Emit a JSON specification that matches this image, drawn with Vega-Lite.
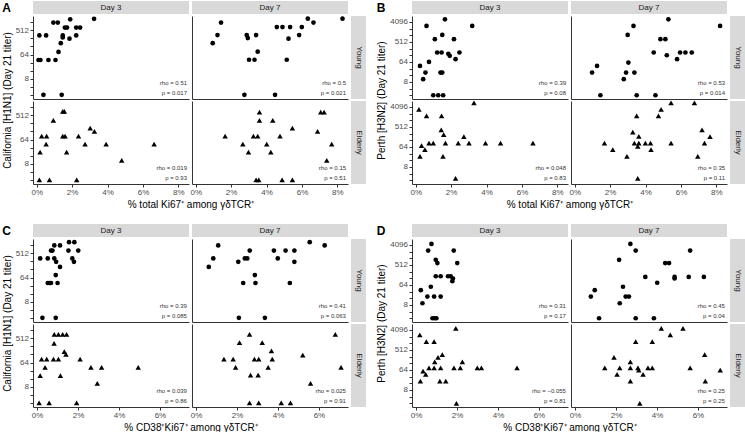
{
"$schema":"https://vega.github.io/schema/vega-lite/v6.json",
"padding":{"left":2,"top":1,"right":0,"bottom":0},
"background":"white",
"config":{"font":"Liberation Sans","view":{"stroke":null},
"axis":{"grid":false,"domainColor":"#333","tickColor":"#333","tickSize":3,"labelFontSize":8,"labelColor":"#4d4d4d","labelPadding":1.5,"titleFontSize":10,"titleFontWeight":"normal","titleColor":"#000","labelFlush":false,"labelOverlap":false,"labelBound":false,"labelSeparation":0},
"axisX":{"titlePadding":3},"axisY":{"titlePadding":3},
"text":{"fontSize":6,"color":"#333","align":"right","baseline":"middle"}},
"datasets":{
"st":[{"k":"A3Y","r":"rho = 0.51","q":"p = 0.017"},{"k":"A7Y","r":"rho = 0.5","q":"p = 0.021"},{"k":"A3E","r":"rho = 0.019","q":"p = 0.93"},{"k":"A7E","r":"rho = 0.15","q":"p = 0.51"},{"k":"B3Y","r":"rho = 0.39","q":"p = 0.08"},{"k":"B7Y","r":"rho = 0.53","q":"p = 0.014"},{"k":"B3E","r":"rho = 0.048","q":"p = 0.83"},{"k":"B7E","r":"rho = 0.35","q":"p = 0.11"},{"k":"C3Y","r":"rho = 0.39","q":"p = 0.085"},{"k":"C7Y","r":"rho = 0.41","q":"p = 0.063"},{"k":"C3E","r":"rho = 0.039","q":"p = 0.86"},{"k":"C7E","r":"rho = 0.025","q":"p = 0.91"},{"k":"D3Y","r":"rho = 0.31","q":"p = 0.17"},{"k":"D7Y","r":"rho = 0.45","q":"p = 0.04"},{"k":"D3E","r":"rho = −0.055","q":"p = 0.81"},{"k":"D7E","r":"rho = 0.25","q":"p = 0.25"}],
"A3Y":[{"x":0.10,"y":40},{"x":0.21,"y":40},{"x":0.66,"y":40},{"x":1.06,"y":40},{"x":0.15,"y":330},{"x":0.53,"y":330},{"x":1.47,"y":330},{"x":1.47,"y":280},{"x":1.85,"y":250},{"x":2.23,"y":330},{"x":1.36,"y":170},{"x":1.23,"y":80},{"x":0.94,"y":1000},{"x":1.19,"y":1000},{"x":1.89,"y":1320},{"x":3.24,"y":1380},{"x":1.59,"y":650},{"x":1.71,"y":650},{"x":2.23,"y":650},{"x":2.45,"y":650},{"x":0.38,"y":2},{"x":1.41,"y":2}],
"A3E":[{"x":1.47,"y":720},{"x":1.56,"y":720},{"x":0.94,"y":330},{"x":0.28,"y":86},{"x":0.56,"y":86},{"x":1.47,"y":86},{"x":1.60,"y":86},{"x":2.36,"y":86},{"x":3.02,"y":170},{"x":3.26,"y":129},{"x":0.53,"y":43},{"x":2.73,"y":43},{"x":3.92,"y":43},{"x":6.63,"y":43},{"x":0.19,"y":21.7},{"x":1.69,"y":21.7},{"x":4.80,"y":10.6},{"x":0.15,"y":2},{"x":0.72,"y":2},{"x":2.26,"y":2}],
"A7Y":[{"x":1.43,"y":1000},{"x":1.23,"y":340},{"x":0.96,"y":170},{"x":2.88,"y":340},{"x":2.94,"y":263},{"x":3.41,"y":340},{"x":3.50,"y":82},{"x":3.01,"y":41},{"x":3.32,"y":41},{"x":2.75,"y":2},{"x":4.48,"y":2},{"x":4.58,"y":680},{"x":4.90,"y":680},{"x":5.33,"y":680},{"x":5.24,"y":250},{"x":5.14,"y":41},{"x":5.84,"y":340},{"x":5.99,"y":680},{"x":6.33,"y":1400},{"x":6.65,"y":1000},{"x":8.29,"y":1400}],
"A7E":[{"x":3.60,"y":680},{"x":3.60,"y":333},{"x":4.35,"y":333},{"x":1.66,"y":86},{"x":3.26,"y":86},{"x":3.50,"y":86},{"x":4.76,"y":86},{"x":5.46,"y":171},{"x":2.66,"y":43},{"x":4.01,"y":43},{"x":2.98,"y":21.7},{"x":4.24,"y":21.7},{"x":6.88,"y":129},{"x":7.06,"y":680},{"x":7.25,"y":680},{"x":7.68,"y":43},{"x":7.40,"y":10.6},{"x":3.41,"y":2},{"x":3.56,"y":2},{"x":4.88,"y":2},{"x":5.46,"y":2}],
"B3Y":[{"x":0.61,"y":2700},{"x":1.65,"y":5400},{"x":3.19,"y":2700},{"x":1.50,"y":1060},{"x":1.08,"y":680},{"x":2.16,"y":680},{"x":1.21,"y":170},{"x":1.46,"y":170},{"x":1.84,"y":150},{"x":1.92,"y":120},{"x":2.47,"y":170},{"x":2.25,"y":85},{"x":0.75,"y":64},{"x":0.24,"y":42},{"x":0.55,"y":21},{"x":1.40,"y":21},{"x":1.50,"y":21},{"x":0.42,"y":10.6},{"x":0.99,"y":2},{"x":1.27,"y":2},{"x":1.55,"y":2}],
"B3E":[{"x":3.29,"y":6200},{"x":0.18,"y":3210},{"x":0.61,"y":1600},{"x":1.46,"y":1600},{"x":1.44,"y":377},{"x":1.58,"y":228},{"x":2.72,"y":189},{"x":0.75,"y":96},{"x":0.99,"y":96},{"x":1.68,"y":96},{"x":2.40,"y":96},{"x":3.01,"y":96},{"x":3.94,"y":96},{"x":4.79,"y":96},{"x":6.62,"y":96},{"x":0.33,"y":73.5},{"x":0.52,"y":48},{"x":0.24,"y":24},{"x":1.54,"y":24},{"x":2.25,"y":2.4}],
"B7Y":[{"x":5.29,"y":5400},{"x":3.32,"y":2700},{"x":8.21,"y":2700},{"x":2.99,"y":1060},{"x":4.84,"y":680},{"x":5.12,"y":680},{"x":4.46,"y":170},{"x":5.20,"y":128},{"x":5.95,"y":170},{"x":6.25,"y":170},{"x":6.61,"y":170},{"x":5.78,"y":85},{"x":3.03,"y":60},{"x":1.26,"y":42},{"x":0.98,"y":21},{"x":2.90,"y":21},{"x":3.37,"y":21},{"x":2.77,"y":10.6},{"x":1.45,"y":2},{"x":3.50,"y":2},{"x":4.56,"y":2}],
"B7E":[{"x":5.44,"y":6200},{"x":6.76,"y":6200},{"x":4.88,"y":3210},{"x":3.50,"y":1600},{"x":4.73,"y":1600},{"x":3.28,"y":296},{"x":3.62,"y":194},{"x":7.19,"y":377},{"x":7.64,"y":189},{"x":1.68,"y":96},{"x":3.37,"y":96},{"x":3.62,"y":96},{"x":3.99,"y":96},{"x":4.28,"y":96},{"x":5.44,"y":96},{"x":7.33,"y":96},{"x":3.56,"y":68},{"x":2.15,"y":48},{"x":4.31,"y":48},{"x":2.95,"y":24},{"x":6.95,"y":24},{"x":3.56,"y":2.4}],
"C3Y":[{"x":0.15,"y":330},{"x":0.52,"y":330},{"x":0.68,"y":650},{"x":0.75,"y":650},{"x":0.84,"y":1010},{"x":1.12,"y":1010},{"x":0.84,"y":330},{"x":0.93,"y":247},{"x":1.12,"y":159},{"x":0.91,"y":79},{"x":0.52,"y":40},{"x":0.60,"y":40},{"x":0.68,"y":40},{"x":1.00,"y":40},{"x":1.56,"y":1340},{"x":1.82,"y":1340},{"x":1.53,"y":650},{"x":2.01,"y":650},{"x":1.72,"y":330},{"x":1.80,"y":247},{"x":0.26,"y":2},{"x":0.91,"y":2}],
"C3E":[{"x":0.84,"y":724},{"x":1.04,"y":724},{"x":1.25,"y":724},{"x":1.44,"y":724},{"x":0.83,"y":333},{"x":1.33,"y":162},{"x":1.41,"y":130},{"x":2.10,"y":86},{"x":0.22,"y":86},{"x":0.47,"y":86},{"x":0.80,"y":86},{"x":1.04,"y":86},{"x":0.39,"y":42.5},{"x":2.63,"y":42.5},{"x":3.15,"y":42.5},{"x":4.94,"y":42.5},{"x":0.15,"y":20.7},{"x":1.14,"y":20.7},{"x":2.94,"y":10.7},{"x":0.10,"y":2},{"x":0.59,"y":2},{"x":1.93,"y":2}],
"C7Y":[{"x":1.08,"y":1010},{"x":0.84,"y":330},{"x":0.62,"y":159},{"x":2.06,"y":247},{"x":2.38,"y":330},{"x":2.50,"y":330},{"x":2.62,"y":650},{"x":2.87,"y":79},{"x":2.30,"y":40},{"x":2.90,"y":40},{"x":3.80,"y":650},{"x":3.99,"y":330},{"x":4.37,"y":650},{"x":4.80,"y":650},{"x":4.80,"y":247},{"x":4.58,"y":40},{"x":5.55,"y":1340},{"x":6.28,"y":1010},{"x":2.09,"y":2},{"x":3.36,"y":2}],
"C7E":[{"x":2.61,"y":724},{"x":6.80,"y":724},{"x":2.12,"y":352},{"x":3.23,"y":352},{"x":3.68,"y":173},{"x":1.36,"y":86},{"x":1.81,"y":86},{"x":2.85,"y":86},{"x":3.06,"y":86},{"x":3.72,"y":86},{"x":5.21,"y":122},{"x":1.93,"y":42.5},{"x":3.52,"y":42.5},{"x":7.08,"y":42.5},{"x":2.66,"y":21.9},{"x":3.03,"y":21.9},{"x":5.59,"y":10.7},{"x":2.61,"y":2},{"x":3.06,"y":2},{"x":4.16,"y":2},{"x":4.61,"y":2}],
"D3Y":[{"x":0.75,"y":4540},{"x":0.59,"y":2270},{"x":1.84,"y":2270},{"x":0.96,"y":873},{"x":1.04,"y":622},{"x":2.01,"y":622},{"x":0.96,"y":158},{"x":1.20,"y":158},{"x":1.56,"y":158},{"x":1.69,"y":158},{"x":1.80,"y":125},{"x":1.77,"y":94},{"x":0.72,"y":53},{"x":0.23,"y":37},{"x":0.55,"y":19},{"x":0.88,"y":19},{"x":1.20,"y":19},{"x":0.31,"y":9.5},{"x":0.80,"y":2},{"x":0.91,"y":2},{"x":0.99,"y":2}],
"D3E":[{"x":1.94,"y":4840},{"x":0.18,"y":2450},{"x":0.50,"y":1230},{"x":0.88,"y":1230},{"x":1.28,"y":313},{"x":1.07,"y":237},{"x":0.91,"y":146},{"x":2.26,"y":146},{"x":0.63,"y":79},{"x":0.88,"y":79},{"x":1.20,"y":79},{"x":1.85,"y":79},{"x":2.16,"y":79},{"x":2.99,"y":79},{"x":3.19,"y":79},{"x":4.93,"y":79},{"x":0.34,"y":56},{"x":0.47,"y":40},{"x":0.21,"y":20},{"x":1.16,"y":20},{"x":1.45,"y":20},{"x":1.97,"y":1.95}],
"D7Y":[{"x":2.70,"y":4540},{"x":2.96,"y":2270},{"x":5.62,"y":2270},{"x":2.15,"y":873},{"x":4.40,"y":622},{"x":4.59,"y":622},{"x":3.43,"y":147},{"x":4.01,"y":80},{"x":4.86,"y":147},{"x":4.86,"y":125},{"x":5.55,"y":147},{"x":6.29,"y":147},{"x":0.96,"y":37},{"x":0.77,"y":19},{"x":2.34,"y":53},{"x":2.47,"y":19},{"x":2.63,"y":19},{"x":2.18,"y":9.5},{"x":1.17,"y":2},{"x":2.96,"y":2},{"x":3.85,"y":2}],
"D7E":[{"x":4.21,"y":4840},{"x":5.27,"y":4840},{"x":4.65,"y":2450},{"x":2.96,"y":1230},{"x":3.77,"y":1230},{"x":1.90,"y":237},{"x":6.33,"y":313},{"x":2.70,"y":146},{"x":1.45,"y":79},{"x":2.18,"y":79},{"x":2.70,"y":79},{"x":3.07,"y":79},{"x":3.11,"y":62},{"x":3.56,"y":79},{"x":3.77,"y":79},{"x":5.62,"y":79},{"x":7.09,"y":62},{"x":2.05,"y":40},{"x":3.32,"y":40},{"x":2.70,"y":20},{"x":6.36,"y":20},{"x":3.16,"y":1.95}]
},
"spacing":14,
"vconcat":[
{"hconcat":[
{"columns":3,"spacing":{"row":2,"column":3},"bounds":"flush","align":"each",
"title":{"text":"A","anchor":"start","frame":"bounds","fontSize":12,"fontWeight":"bold","offset":-14,"color":"#000"},
"concat":[
{"width":156,"height":13,"view":{"fill":"#d9d9d9","stroke":null},"data":{"values":[{"t":"Day 3"}]},"mark":{"type":"text","fontSize":8,"color":"#1a1a1a","align":"center"},"encoding":{"text":{"field":"t"}}},
{"width":156,"height":13,"view":{"fill":"#d9d9d9","stroke":null},"data":{"values":[{"t":"Day 7"}]},"mark":{"type":"text","fontSize":8,"color":"#1a1a1a","align":"center"},"encoding":{"text":{"field":"t"}}},
{"width":15,"height":13,"data":{"values":[{"t":""}]},"mark":{"type":"text"},"encoding":{"text":{"field":"t"}}},
{"width":156,"height":83,"layer":[
{"data":{"name":"A3Y"},"mark":{"type":"point","shape":"circle","filled":true,"size":22,"color":"#000","opacity":1},"encoding":{"x":{"field":"x","type":"quantitative","scale":{"domain":[-0.21,8.6],"nice":false,"zero":false},"axis":{"title":null,"labels":false,"ticks":false}},"y":{"field":"y","type":"quantitative","scale":{"type":"log","domain":[1.4,1760],"nice":false},"axis":{"values":[2,4,8,16,32,64,128,256,512,1024],"format":"d","labelExpr":"datum.value==8||datum.value==64||datum.value==512||datum.value==4096?datum.label:''","title":"California [H1N1] (Day 21 titer)","titleY":84}}}},
{"data":{"name":"st"},"transform":[{"filter":"datum.k=='A3Y'"}],"mark":"text","encoding":{"x":{"datum":8.49,"axis":{"title":null,"labels":false,"ticks":false}},"y":{"datum":5.7,"axis":{"values":[2,4,8,16,32,64,128,256,512,1024],"format":"d","labelExpr":"datum.value==8||datum.value==64||datum.value==512||datum.value==4096?datum.label:''","title":"California [H1N1] (Day 21 titer)","titleY":84}},"text":{"field":"r"}}},
{"data":{"name":"st"},"transform":[{"filter":"datum.k=='A3Y'"}],"mark":"text","encoding":{"x":{"datum":8.49,"axis":{"title":null,"labels":false,"ticks":false}},"y":{"datum":2.3,"axis":{"values":[2,4,8,16,32,64,128,256,512,1024],"format":"d","labelExpr":"datum.value==8||datum.value==64||datum.value==512||datum.value==4096?datum.label:''","title":"California [H1N1] (Day 21 titer)","titleY":84}},"text":{"field":"q"}}}]},
{"width":156,"height":83,"layer":[
{"data":{"name":"A7Y"},"mark":{"type":"point","shape":"circle","filled":true,"size":22,"color":"#000","opacity":1},"encoding":{"x":{"field":"x","type":"quantitative","scale":{"domain":[-0.21,8.6],"nice":false,"zero":false},"axis":{"title":null,"labels":false,"ticks":false}},"y":{"field":"y","type":"quantitative","scale":{"type":"log","domain":[1.4,1760],"nice":false},"axis":{"title":null,"labels":false,"ticks":false}}}},
{"data":{"name":"st"},"transform":[{"filter":"datum.k=='A7Y'"}],"mark":"text","encoding":{"x":{"datum":8.49,"axis":{"title":null,"labels":false,"ticks":false}},"y":{"datum":5.7,"axis":{"title":null,"labels":false,"ticks":false}},"text":{"field":"r"}}},
{"data":{"name":"st"},"transform":[{"filter":"datum.k=='A7Y'"}],"mark":"text","encoding":{"x":{"datum":8.49,"axis":{"title":null,"labels":false,"ticks":false}},"y":{"datum":2.3,"axis":{"title":null,"labels":false,"ticks":false}},"text":{"field":"q"}}}]},
{"width":15,"height":83,"view":{"fill":"#d9d9d9","stroke":null},"data":{"values":[{"t":"Young"}]},"mark":{"type":"text","fontSize":8,"angle":90,"color":"#1a1a1a","align":"center"},"encoding":{"text":{"field":"t"}}},
{"width":156,"height":83,"layer":[
{"data":{"name":"A3E"},"mark":{"type":"point","shape":"triangle-up","filled":true,"size":30,"color":"#000","opacity":1},"encoding":{"x":{"field":"x","type":"quantitative","scale":{"domain":[-0.21,8.6],"nice":false,"zero":false},"axis":{"values":[0,2,4,6,8],"labelOverlap":false,"labelExpr":"datum.value+'%'","title":"% total Ki67⁺ among γδTCR⁺","titleX":157.5}},"y":{"field":"y","type":"quantitative","scale":{"type":"log","domain":[1.4,1760],"nice":false},"axis":{"values":[2,4,8,16,32,64,128,256,512,1024],"format":"d","labelExpr":"datum.value==8||datum.value==64||datum.value==512||datum.value==4096?datum.label:''","title":null}}}},
{"data":{"name":"st"},"transform":[{"filter":"datum.k=='A3E'"}],"mark":"text","encoding":{"x":{"datum":8.49,"axis":{"values":[0,2,4,6,8],"labelOverlap":false,"labelExpr":"datum.value+'%'","title":"% total Ki67⁺ among γδTCR⁺","titleX":157.5}},"y":{"datum":5.7,"axis":{"values":[2,4,8,16,32,64,128,256,512,1024],"format":"d","labelExpr":"datum.value==8||datum.value==64||datum.value==512||datum.value==4096?datum.label:''","title":null}},"text":{"field":"r"}}},
{"data":{"name":"st"},"transform":[{"filter":"datum.k=='A3E'"}],"mark":"text","encoding":{"x":{"datum":8.49,"axis":{"values":[0,2,4,6,8],"labelOverlap":false,"labelExpr":"datum.value+'%'","title":"% total Ki67⁺ among γδTCR⁺","titleX":157.5}},"y":{"datum":2.3,"axis":{"values":[2,4,8,16,32,64,128,256,512,1024],"format":"d","labelExpr":"datum.value==8||datum.value==64||datum.value==512||datum.value==4096?datum.label:''","title":null}},"text":{"field":"q"}}}]},
{"width":156,"height":83,"layer":[
{"data":{"name":"A7E"},"mark":{"type":"point","shape":"triangle-up","filled":true,"size":30,"color":"#000","opacity":1},"encoding":{"x":{"field":"x","type":"quantitative","scale":{"domain":[-0.21,8.6],"nice":false,"zero":false},"axis":{"values":[0,2,4,6,8],"labelOverlap":false,"labelExpr":"datum.value+'%'","title":null}},"y":{"field":"y","type":"quantitative","scale":{"type":"log","domain":[1.4,1760],"nice":false},"axis":{"title":null,"labels":false,"ticks":false}}}},
{"data":{"name":"st"},"transform":[{"filter":"datum.k=='A7E'"}],"mark":"text","encoding":{"x":{"datum":8.49,"axis":{"values":[0,2,4,6,8],"labelOverlap":false,"labelExpr":"datum.value+'%'","title":null}},"y":{"datum":5.7,"axis":{"title":null,"labels":false,"ticks":false}},"text":{"field":"r"}}},
{"data":{"name":"st"},"transform":[{"filter":"datum.k=='A7E'"}],"mark":"text","encoding":{"x":{"datum":8.49,"axis":{"values":[0,2,4,6,8],"labelOverlap":false,"labelExpr":"datum.value+'%'","title":null}},"y":{"datum":2.3,"axis":{"title":null,"labels":false,"ticks":false}},"text":{"field":"q"}}}]},
{"width":15,"height":83,"view":{"fill":"#d9d9d9","stroke":null},"data":{"values":[{"t":"Elderly"}]},"mark":{"type":"text","fontSize":8,"angle":90,"color":"#1a1a1a","align":"center"},"encoding":{"text":{"field":"t"}}}
]},
{"columns":3,"spacing":{"row":2,"column":3},"bounds":"flush","align":"each",
"title":{"text":"B","anchor":"start","frame":"bounds","fontSize":12,"fontWeight":"bold","offset":-14,"color":"#000"},
"concat":[
{"width":156,"height":13,"view":{"fill":"#d9d9d9","stroke":null},"data":{"values":[{"t":"Day 3"}]},"mark":{"type":"text","fontSize":8,"color":"#1a1a1a","align":"center"},"encoding":{"text":{"field":"t"}}},
{"width":156,"height":13,"view":{"fill":"#d9d9d9","stroke":null},"data":{"values":[{"t":"Day 7"}]},"mark":{"type":"text","fontSize":8,"color":"#1a1a1a","align":"center"},"encoding":{"text":{"field":"t"}}},
{"width":15,"height":13,"data":{"values":[{"t":""}]},"mark":{"type":"text"},"encoding":{"text":{"field":"t"}}},
{"width":156,"height":83,"layer":[
{"data":{"name":"B3Y"},"mark":{"type":"point","shape":"circle","filled":true,"size":22,"color":"#000","opacity":1},"encoding":{"x":{"field":"x","type":"quantitative","scale":{"domain":[-0.21,8.6],"nice":false,"zero":false},"axis":{"title":null,"labels":false,"ticks":false}},"y":{"field":"y","type":"quantitative","scale":{"type":"log","domain":[1.35,7600],"nice":false},"axis":{"values":[2,4,8,16,32,64,128,256,512,1024,2048,4096],"format":"d","labelExpr":"datum.value==8||datum.value==64||datum.value==512||datum.value==4096?datum.label:''","title":"Perth [H3N2] (Day 21 titer)","titleY":84}}}},
{"data":{"name":"st"},"transform":[{"filter":"datum.k=='B3Y'"}],"mark":"text","encoding":{"x":{"datum":8.49,"axis":{"title":null,"labels":false,"ticks":false}},"y":{"datum":7.4,"axis":{"values":[2,4,8,16,32,64,128,256,512,1024,2048,4096],"format":"d","labelExpr":"datum.value==8||datum.value==64||datum.value==512||datum.value==4096?datum.label:''","title":"Perth [H3N2] (Day 21 titer)","titleY":84}},"text":{"field":"r"}}},
{"data":{"name":"st"},"transform":[{"filter":"datum.k=='B3Y'"}],"mark":"text","encoding":{"x":{"datum":8.49,"axis":{"title":null,"labels":false,"ticks":false}},"y":{"datum":2.45,"axis":{"values":[2,4,8,16,32,64,128,256,512,1024,2048,4096],"format":"d","labelExpr":"datum.value==8||datum.value==64||datum.value==512||datum.value==4096?datum.label:''","title":"Perth [H3N2] (Day 21 titer)","titleY":84}},"text":{"field":"q"}}}]},
{"width":156,"height":83,"layer":[
{"data":{"name":"B7Y"},"mark":{"type":"point","shape":"circle","filled":true,"size":22,"color":"#000","opacity":1},"encoding":{"x":{"field":"x","type":"quantitative","scale":{"domain":[-0.21,8.6],"nice":false,"zero":false},"axis":{"title":null,"labels":false,"ticks":false}},"y":{"field":"y","type":"quantitative","scale":{"type":"log","domain":[1.35,7600],"nice":false},"axis":{"title":null,"labels":false,"ticks":false}}}},
{"data":{"name":"st"},"transform":[{"filter":"datum.k=='B7Y'"}],"mark":"text","encoding":{"x":{"datum":8.49,"axis":{"title":null,"labels":false,"ticks":false}},"y":{"datum":7.4,"axis":{"title":null,"labels":false,"ticks":false}},"text":{"field":"r"}}},
{"data":{"name":"st"},"transform":[{"filter":"datum.k=='B7Y'"}],"mark":"text","encoding":{"x":{"datum":8.49,"axis":{"title":null,"labels":false,"ticks":false}},"y":{"datum":2.45,"axis":{"title":null,"labels":false,"ticks":false}},"text":{"field":"q"}}}]},
{"width":15,"height":83,"view":{"fill":"#d9d9d9","stroke":null},"data":{"values":[{"t":"Young"}]},"mark":{"type":"text","fontSize":8,"angle":90,"color":"#1a1a1a","align":"center"},"encoding":{"text":{"field":"t"}}},
{"width":156,"height":83,"layer":[
{"data":{"name":"B3E"},"mark":{"type":"point","shape":"triangle-up","filled":true,"size":30,"color":"#000","opacity":1},"encoding":{"x":{"field":"x","type":"quantitative","scale":{"domain":[-0.21,8.6],"nice":false,"zero":false},"axis":{"values":[0,2,4,6,8],"labelOverlap":false,"labelExpr":"datum.value+'%'","title":"% total Ki67⁺ among γδTCR⁺","titleX":157.5}},"y":{"field":"y","type":"quantitative","scale":{"type":"log","domain":[1.35,7600],"nice":false},"axis":{"values":[2,4,8,16,32,64,128,256,512,1024,2048,4096],"format":"d","labelExpr":"datum.value==8||datum.value==64||datum.value==512||datum.value==4096?datum.label:''","title":null}}}},
{"data":{"name":"st"},"transform":[{"filter":"datum.k=='B3E'"}],"mark":"text","encoding":{"x":{"datum":8.49,"axis":{"values":[0,2,4,6,8],"labelOverlap":false,"labelExpr":"datum.value+'%'","title":"% total Ki67⁺ among γδTCR⁺","titleX":157.5}},"y":{"datum":7.4,"axis":{"values":[2,4,8,16,32,64,128,256,512,1024,2048,4096],"format":"d","labelExpr":"datum.value==8||datum.value==64||datum.value==512||datum.value==4096?datum.label:''","title":null}},"text":{"field":"r"}}},
{"data":{"name":"st"},"transform":[{"filter":"datum.k=='B3E'"}],"mark":"text","encoding":{"x":{"datum":8.49,"axis":{"values":[0,2,4,6,8],"labelOverlap":false,"labelExpr":"datum.value+'%'","title":"% total Ki67⁺ among γδTCR⁺","titleX":157.5}},"y":{"datum":2.45,"axis":{"values":[2,4,8,16,32,64,128,256,512,1024,2048,4096],"format":"d","labelExpr":"datum.value==8||datum.value==64||datum.value==512||datum.value==4096?datum.label:''","title":null}},"text":{"field":"q"}}}]},
{"width":156,"height":83,"layer":[
{"data":{"name":"B7E"},"mark":{"type":"point","shape":"triangle-up","filled":true,"size":30,"color":"#000","opacity":1},"encoding":{"x":{"field":"x","type":"quantitative","scale":{"domain":[-0.21,8.6],"nice":false,"zero":false},"axis":{"values":[0,2,4,6,8],"labelOverlap":false,"labelExpr":"datum.value+'%'","title":null}},"y":{"field":"y","type":"quantitative","scale":{"type":"log","domain":[1.35,7600],"nice":false},"axis":{"title":null,"labels":false,"ticks":false}}}},
{"data":{"name":"st"},"transform":[{"filter":"datum.k=='B7E'"}],"mark":"text","encoding":{"x":{"datum":8.49,"axis":{"values":[0,2,4,6,8],"labelOverlap":false,"labelExpr":"datum.value+'%'","title":null}},"y":{"datum":7.4,"axis":{"title":null,"labels":false,"ticks":false}},"text":{"field":"r"}}},
{"data":{"name":"st"},"transform":[{"filter":"datum.k=='B7E'"}],"mark":"text","encoding":{"x":{"datum":8.49,"axis":{"values":[0,2,4,6,8],"labelOverlap":false,"labelExpr":"datum.value+'%'","title":null}},"y":{"datum":2.45,"axis":{"title":null,"labels":false,"ticks":false}},"text":{"field":"q"}}}]},
{"width":15,"height":83,"view":{"fill":"#d9d9d9","stroke":null},"data":{"values":[{"t":"Elderly"}]},"mark":{"type":"text","fontSize":8,"angle":90,"color":"#1a1a1a","align":"center"},"encoding":{"text":{"field":"t"}}}
]}
],"spacing":10},
{"hconcat":[
{"columns":3,"spacing":{"row":2,"column":3},"bounds":"flush","align":"each",
"title":{"text":"C","anchor":"start","frame":"bounds","fontSize":12,"fontWeight":"bold","offset":-14,"color":"#000"},
"concat":[
{"width":156,"height":13,"view":{"fill":"#d9d9d9","stroke":null},"data":{"values":[{"t":"Day 3"}]},"mark":{"type":"text","fontSize":8,"color":"#1a1a1a","align":"center"},"encoding":{"text":{"field":"t"}}},
{"width":156,"height":13,"view":{"fill":"#d9d9d9","stroke":null},"data":{"values":[{"t":"Day 7"}]},"mark":{"type":"text","fontSize":8,"color":"#1a1a1a","align":"center"},"encoding":{"text":{"field":"t"}}},
{"width":15,"height":13,"data":{"values":[{"t":""}]},"mark":{"type":"text"},"encoding":{"text":{"field":"t"}}},
{"width":156,"height":83,"layer":[
{"data":{"name":"C3Y"},"mark":{"type":"point","shape":"circle","filled":true,"size":22,"color":"#000","opacity":1},"encoding":{"x":{"field":"x","type":"quantitative","scale":{"domain":[-0.2,7.42],"nice":false,"zero":false},"axis":{"title":null,"labels":false,"ticks":false}},"y":{"field":"y","type":"quantitative","scale":{"type":"log","domain":[1.4,1760],"nice":false},"axis":{"values":[2,4,8,16,32,64,128,256,512,1024],"format":"d","labelExpr":"datum.value==8||datum.value==64||datum.value==512||datum.value==4096?datum.label:''","title":"California [H1N1] (Day 21 titer)","titleY":84}}}},
{"data":{"name":"st"},"transform":[{"filter":"datum.k=='C3Y'"}],"mark":"text","encoding":{"x":{"datum":7.32,"axis":{"title":null,"labels":false,"ticks":false}},"y":{"datum":5.7,"axis":{"values":[2,4,8,16,32,64,128,256,512,1024],"format":"d","labelExpr":"datum.value==8||datum.value==64||datum.value==512||datum.value==4096?datum.label:''","title":"California [H1N1] (Day 21 titer)","titleY":84}},"text":{"field":"r"}}},
{"data":{"name":"st"},"transform":[{"filter":"datum.k=='C3Y'"}],"mark":"text","encoding":{"x":{"datum":7.32,"axis":{"title":null,"labels":false,"ticks":false}},"y":{"datum":2.3,"axis":{"values":[2,4,8,16,32,64,128,256,512,1024],"format":"d","labelExpr":"datum.value==8||datum.value==64||datum.value==512||datum.value==4096?datum.label:''","title":"California [H1N1] (Day 21 titer)","titleY":84}},"text":{"field":"q"}}}]},
{"width":156,"height":83,"layer":[
{"data":{"name":"C7Y"},"mark":{"type":"point","shape":"circle","filled":true,"size":22,"color":"#000","opacity":1},"encoding":{"x":{"field":"x","type":"quantitative","scale":{"domain":[-0.2,7.42],"nice":false,"zero":false},"axis":{"title":null,"labels":false,"ticks":false}},"y":{"field":"y","type":"quantitative","scale":{"type":"log","domain":[1.4,1760],"nice":false},"axis":{"title":null,"labels":false,"ticks":false}}}},
{"data":{"name":"st"},"transform":[{"filter":"datum.k=='C7Y'"}],"mark":"text","encoding":{"x":{"datum":7.32,"axis":{"title":null,"labels":false,"ticks":false}},"y":{"datum":5.7,"axis":{"title":null,"labels":false,"ticks":false}},"text":{"field":"r"}}},
{"data":{"name":"st"},"transform":[{"filter":"datum.k=='C7Y'"}],"mark":"text","encoding":{"x":{"datum":7.32,"axis":{"title":null,"labels":false,"ticks":false}},"y":{"datum":2.3,"axis":{"title":null,"labels":false,"ticks":false}},"text":{"field":"q"}}}]},
{"width":15,"height":83,"view":{"fill":"#d9d9d9","stroke":null},"data":{"values":[{"t":"Young"}]},"mark":{"type":"text","fontSize":8,"angle":90,"color":"#1a1a1a","align":"center"},"encoding":{"text":{"field":"t"}}},
{"width":156,"height":83,"layer":[
{"data":{"name":"C3E"},"mark":{"type":"point","shape":"triangle-up","filled":true,"size":30,"color":"#000","opacity":1},"encoding":{"x":{"field":"x","type":"quantitative","scale":{"domain":[-0.2,7.42],"nice":false,"zero":false},"axis":{"values":[0,2,4,6],"labelOverlap":false,"labelExpr":"datum.value+'%'","title":"% CD38⁺Ki67⁺ among γδTCR⁺","titleX":157.5}},"y":{"field":"y","type":"quantitative","scale":{"type":"log","domain":[1.4,1760],"nice":false},"axis":{"values":[2,4,8,16,32,64,128,256,512,1024],"format":"d","labelExpr":"datum.value==8||datum.value==64||datum.value==512||datum.value==4096?datum.label:''","title":null}}}},
{"data":{"name":"st"},"transform":[{"filter":"datum.k=='C3E'"}],"mark":"text","encoding":{"x":{"datum":7.32,"axis":{"values":[0,2,4,6],"labelOverlap":false,"labelExpr":"datum.value+'%'","title":"% CD38⁺Ki67⁺ among γδTCR⁺","titleX":157.5}},"y":{"datum":5.7,"axis":{"values":[2,4,8,16,32,64,128,256,512,1024],"format":"d","labelExpr":"datum.value==8||datum.value==64||datum.value==512||datum.value==4096?datum.label:''","title":null}},"text":{"field":"r"}}},
{"data":{"name":"st"},"transform":[{"filter":"datum.k=='C3E'"}],"mark":"text","encoding":{"x":{"datum":7.32,"axis":{"values":[0,2,4,6],"labelOverlap":false,"labelExpr":"datum.value+'%'","title":"% CD38⁺Ki67⁺ among γδTCR⁺","titleX":157.5}},"y":{"datum":2.3,"axis":{"values":[2,4,8,16,32,64,128,256,512,1024],"format":"d","labelExpr":"datum.value==8||datum.value==64||datum.value==512||datum.value==4096?datum.label:''","title":null}},"text":{"field":"q"}}}]},
{"width":156,"height":83,"layer":[
{"data":{"name":"C7E"},"mark":{"type":"point","shape":"triangle-up","filled":true,"size":30,"color":"#000","opacity":1},"encoding":{"x":{"field":"x","type":"quantitative","scale":{"domain":[-0.2,7.42],"nice":false,"zero":false},"axis":{"values":[0,2,4,6],"labelOverlap":false,"labelExpr":"datum.value+'%'","title":null}},"y":{"field":"y","type":"quantitative","scale":{"type":"log","domain":[1.4,1760],"nice":false},"axis":{"title":null,"labels":false,"ticks":false}}}},
{"data":{"name":"st"},"transform":[{"filter":"datum.k=='C7E'"}],"mark":"text","encoding":{"x":{"datum":7.32,"axis":{"values":[0,2,4,6],"labelOverlap":false,"labelExpr":"datum.value+'%'","title":null}},"y":{"datum":5.7,"axis":{"title":null,"labels":false,"ticks":false}},"text":{"field":"r"}}},
{"data":{"name":"st"},"transform":[{"filter":"datum.k=='C7E'"}],"mark":"text","encoding":{"x":{"datum":7.32,"axis":{"values":[0,2,4,6],"labelOverlap":false,"labelExpr":"datum.value+'%'","title":null}},"y":{"datum":2.3,"axis":{"title":null,"labels":false,"ticks":false}},"text":{"field":"q"}}}]},
{"width":15,"height":83,"view":{"fill":"#d9d9d9","stroke":null},"data":{"values":[{"t":"Elderly"}]},"mark":{"type":"text","fontSize":8,"angle":90,"color":"#1a1a1a","align":"center"},"encoding":{"text":{"field":"t"}}}
]},
{"columns":3,"spacing":{"row":2,"column":3},"bounds":"flush","align":"each",
"title":{"text":"D","anchor":"start","frame":"bounds","fontSize":12,"fontWeight":"bold","offset":-14,"color":"#000"},
"concat":[
{"width":156,"height":13,"view":{"fill":"#d9d9d9","stroke":null},"data":{"values":[{"t":"Day 3"}]},"mark":{"type":"text","fontSize":8,"color":"#1a1a1a","align":"center"},"encoding":{"text":{"field":"t"}}},
{"width":156,"height":13,"view":{"fill":"#d9d9d9","stroke":null},"data":{"values":[{"t":"Day 7"}]},"mark":{"type":"text","fontSize":8,"color":"#1a1a1a","align":"center"},"encoding":{"text":{"field":"t"}}},
{"width":15,"height":13,"data":{"values":[{"t":""}]},"mark":{"type":"text"},"encoding":{"text":{"field":"t"}}},
{"width":156,"height":83,"layer":[
{"data":{"name":"D3Y"},"mark":{"type":"point","shape":"circle","filled":true,"size":22,"color":"#000","opacity":1},"encoding":{"x":{"field":"x","type":"quantitative","scale":{"domain":[-0.2,7.42],"nice":false,"zero":false},"axis":{"title":null,"labels":false,"ticks":false}},"y":{"field":"y","type":"quantitative","scale":{"type":"log","domain":[1.35,7600],"nice":false},"axis":{"values":[2,4,8,16,32,64,128,256,512,1024,2048,4096],"format":"d","labelExpr":"datum.value==8||datum.value==64||datum.value==512||datum.value==4096?datum.label:''","title":"Perth [H3N2] (Day 21 titer)","titleY":84}}}},
{"data":{"name":"st"},"transform":[{"filter":"datum.k=='D3Y'"}],"mark":"text","encoding":{"x":{"datum":7.32,"axis":{"title":null,"labels":false,"ticks":false}},"y":{"datum":7.4,"axis":{"values":[2,4,8,16,32,64,128,256,512,1024,2048,4096],"format":"d","labelExpr":"datum.value==8||datum.value==64||datum.value==512||datum.value==4096?datum.label:''","title":"Perth [H3N2] (Day 21 titer)","titleY":84}},"text":{"field":"r"}}},
{"data":{"name":"st"},"transform":[{"filter":"datum.k=='D3Y'"}],"mark":"text","encoding":{"x":{"datum":7.32,"axis":{"title":null,"labels":false,"ticks":false}},"y":{"datum":2.45,"axis":{"values":[2,4,8,16,32,64,128,256,512,1024,2048,4096],"format":"d","labelExpr":"datum.value==8||datum.value==64||datum.value==512||datum.value==4096?datum.label:''","title":"Perth [H3N2] (Day 21 titer)","titleY":84}},"text":{"field":"q"}}}]},
{"width":156,"height":83,"layer":[
{"data":{"name":"D7Y"},"mark":{"type":"point","shape":"circle","filled":true,"size":22,"color":"#000","opacity":1},"encoding":{"x":{"field":"x","type":"quantitative","scale":{"domain":[-0.2,7.42],"nice":false,"zero":false},"axis":{"title":null,"labels":false,"ticks":false}},"y":{"field":"y","type":"quantitative","scale":{"type":"log","domain":[1.35,7600],"nice":false},"axis":{"title":null,"labels":false,"ticks":false}}}},
{"data":{"name":"st"},"transform":[{"filter":"datum.k=='D7Y'"}],"mark":"text","encoding":{"x":{"datum":7.32,"axis":{"title":null,"labels":false,"ticks":false}},"y":{"datum":7.4,"axis":{"title":null,"labels":false,"ticks":false}},"text":{"field":"r"}}},
{"data":{"name":"st"},"transform":[{"filter":"datum.k=='D7Y'"}],"mark":"text","encoding":{"x":{"datum":7.32,"axis":{"title":null,"labels":false,"ticks":false}},"y":{"datum":2.45,"axis":{"title":null,"labels":false,"ticks":false}},"text":{"field":"q"}}}]},
{"width":15,"height":83,"view":{"fill":"#d9d9d9","stroke":null},"data":{"values":[{"t":"Young"}]},"mark":{"type":"text","fontSize":8,"angle":90,"color":"#1a1a1a","align":"center"},"encoding":{"text":{"field":"t"}}},
{"width":156,"height":83,"layer":[
{"data":{"name":"D3E"},"mark":{"type":"point","shape":"triangle-up","filled":true,"size":30,"color":"#000","opacity":1},"encoding":{"x":{"field":"x","type":"quantitative","scale":{"domain":[-0.2,7.42],"nice":false,"zero":false},"axis":{"values":[0,2,4,6],"labelOverlap":false,"labelExpr":"datum.value+'%'","title":"% CD38⁺Ki67⁺ among γδTCR⁺","titleX":157.5}},"y":{"field":"y","type":"quantitative","scale":{"type":"log","domain":[1.35,7600],"nice":false},"axis":{"values":[2,4,8,16,32,64,128,256,512,1024,2048,4096],"format":"d","labelExpr":"datum.value==8||datum.value==64||datum.value==512||datum.value==4096?datum.label:''","title":null}}}},
{"data":{"name":"st"},"transform":[{"filter":"datum.k=='D3E'"}],"mark":"text","encoding":{"x":{"datum":7.32,"axis":{"values":[0,2,4,6],"labelOverlap":false,"labelExpr":"datum.value+'%'","title":"% CD38⁺Ki67⁺ among γδTCR⁺","titleX":157.5}},"y":{"datum":7.4,"axis":{"values":[2,4,8,16,32,64,128,256,512,1024,2048,4096],"format":"d","labelExpr":"datum.value==8||datum.value==64||datum.value==512||datum.value==4096?datum.label:''","title":null}},"text":{"field":"r"}}},
{"data":{"name":"st"},"transform":[{"filter":"datum.k=='D3E'"}],"mark":"text","encoding":{"x":{"datum":7.32,"axis":{"values":[0,2,4,6],"labelOverlap":false,"labelExpr":"datum.value+'%'","title":"% CD38⁺Ki67⁺ among γδTCR⁺","titleX":157.5}},"y":{"datum":2.45,"axis":{"values":[2,4,8,16,32,64,128,256,512,1024,2048,4096],"format":"d","labelExpr":"datum.value==8||datum.value==64||datum.value==512||datum.value==4096?datum.label:''","title":null}},"text":{"field":"q"}}}]},
{"width":156,"height":83,"layer":[
{"data":{"name":"D7E"},"mark":{"type":"point","shape":"triangle-up","filled":true,"size":30,"color":"#000","opacity":1},"encoding":{"x":{"field":"x","type":"quantitative","scale":{"domain":[-0.2,7.42],"nice":false,"zero":false},"axis":{"values":[0,2,4,6],"labelOverlap":false,"labelExpr":"datum.value+'%'","title":null}},"y":{"field":"y","type":"quantitative","scale":{"type":"log","domain":[1.35,7600],"nice":false},"axis":{"title":null,"labels":false,"ticks":false}}}},
{"data":{"name":"st"},"transform":[{"filter":"datum.k=='D7E'"}],"mark":"text","encoding":{"x":{"datum":7.32,"axis":{"values":[0,2,4,6],"labelOverlap":false,"labelExpr":"datum.value+'%'","title":null}},"y":{"datum":7.4,"axis":{"title":null,"labels":false,"ticks":false}},"text":{"field":"r"}}},
{"data":{"name":"st"},"transform":[{"filter":"datum.k=='D7E'"}],"mark":"text","encoding":{"x":{"datum":7.32,"axis":{"values":[0,2,4,6],"labelOverlap":false,"labelExpr":"datum.value+'%'","title":null}},"y":{"datum":2.45,"axis":{"title":null,"labels":false,"ticks":false}},"text":{"field":"q"}}}]},
{"width":15,"height":83,"view":{"fill":"#d9d9d9","stroke":null},"data":{"values":[{"t":"Elderly"}]},"mark":{"type":"text","fontSize":8,"angle":90,"color":"#1a1a1a","align":"center"},"encoding":{"text":{"field":"t"}}}
]}
],"spacing":10}
]
}
